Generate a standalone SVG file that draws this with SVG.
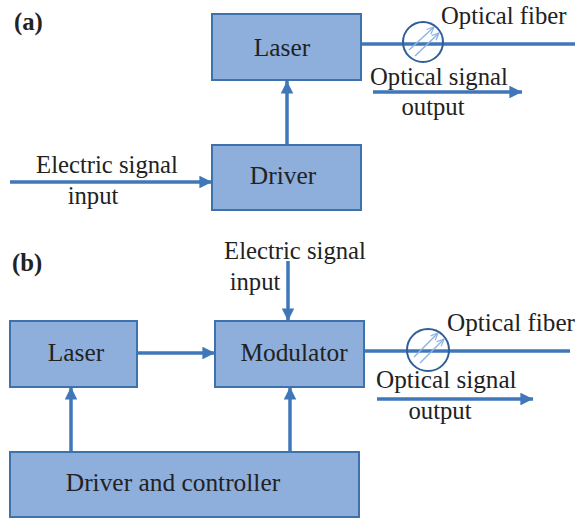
<svg xmlns="http://www.w3.org/2000/svg" width="580" height="519" viewBox="0 0 580 519">
<style>
.box{fill:#8eaedb;stroke:#3f72ad;stroke-width:2}
text{font-family:"Liberation Serif","Times New Roman",serif;font-size:24.7px;fill:#222}
.n{font-size:25.4px}
.w{font-size:25.2px}
.m{text-anchor:middle}
.b{font-weight:bold}
.c{fill:none;stroke:#3f77b8;stroke-width:3.5}
.ring{fill:none;stroke:#2f5f96;stroke-width:2}
.t{fill:none;stroke:#8eb4e3;stroke-width:1.5}
.h{fill:#3f77b8}
</style>
<defs>
<marker id="a" viewBox="0 0 10 10" refX="10" refY="5" markerWidth="4" markerHeight="3.6" orient="auto"><path d="M0 0L10 5L0 10z" class="h"/></marker>
<marker id="s" viewBox="0 0 10 10" refX="10" refY="5" markerWidth="8" markerHeight="8" markerUnits="userSpaceOnUse" orient="auto"><path d="M1 1L10 5L1 9" fill="none" stroke="#8eb4e3" stroke-width="1.5"/></marker>
</defs>
<rect width="580" height="519" fill="#fff"/>
<g id="connectors">
<path class="c" d="M361 44H575"/>
<path class="c" marker-end="url(#a)" d="M373 92H522"/>
<path class="c" marker-end="url(#a)" d="M287 145V81"/>
<path class="c" marker-end="url(#a)" d="M10 182H212"/>
<path class="c" marker-end="url(#a)" d="M288 261V321"/>
<path class="c" marker-end="url(#a)" d="M138 353H215"/>
<path class="c" marker-end="url(#a)" d="M71 452V387"/>
<path class="c" marker-end="url(#a)" d="M290 452V387"/>
<path class="c" d="M365 351H570"/>
<path class="c" marker-end="url(#a)" d="M377 399H533"/>
</g>
<g id="label-a"><text class="b" x="14" y="30">(a)</text></g>
<g id="laser-a"><rect class="box" x="212" y="14" width="149" height="66"/><text class="m n" x="282" y="56">Laser</text></g>
<g id="driver-a"><rect class="box" x="212" y="145" width="149" height="65"/><text class="m n" x="283" y="184">Driver</text></g>
<g id="modulator-icon-a">
<circle class="ring" cx="423" cy="42" r="20"/>
<path class="t" marker-end="url(#s)" d="M409 50L434 27"/>
<path class="t" marker-end="url(#s)" d="M415 56L439 33"/>
</g>
<g id="text-a">
<text x="441" y="24">Optical fiber</text>
<text x="370" y="85">Optical signal</text>
<text class="m" x="433" y="115">output</text>
<text class="m" x="107" y="173">Electric signal</text>
<text class="m" x="93" y="204">input</text>
</g>
<g id="label-b"><text class="b" x="12" y="271">(b)</text></g>
<g id="laser-b"><rect class="box" x="10" y="321" width="127" height="66"/><text class="m n" x="76" y="361">Laser</text></g>
<g id="modulator-b"><rect class="box" x="215" y="321" width="149" height="66"/><text class="m n" x="294" y="361">Modulator</text></g>
<g id="driver-controller"><rect class="box" x="10" y="452" width="349" height="65"/><text class="m n" x="173" y="491">Driver and controller</text></g>
<g id="modulator-icon-b">
<circle class="ring" cx="428" cy="350" r="21"/>
<path class="t" marker-end="url(#s)" d="M414 357L438 333"/>
<path class="t" marker-end="url(#s)" d="M420 363L444 339"/>
</g>
<g id="text-b">
<text class="m" x="295" y="259">Electric signal</text>
<text class="m" x="255" y="290">input</text>
<text class="w" x="447" y="331">Optical fiber</text>
<text class="w" x="376" y="388">Optical signal</text>
<text class="m" x="440" y="419">output</text>
</g>
</svg>
